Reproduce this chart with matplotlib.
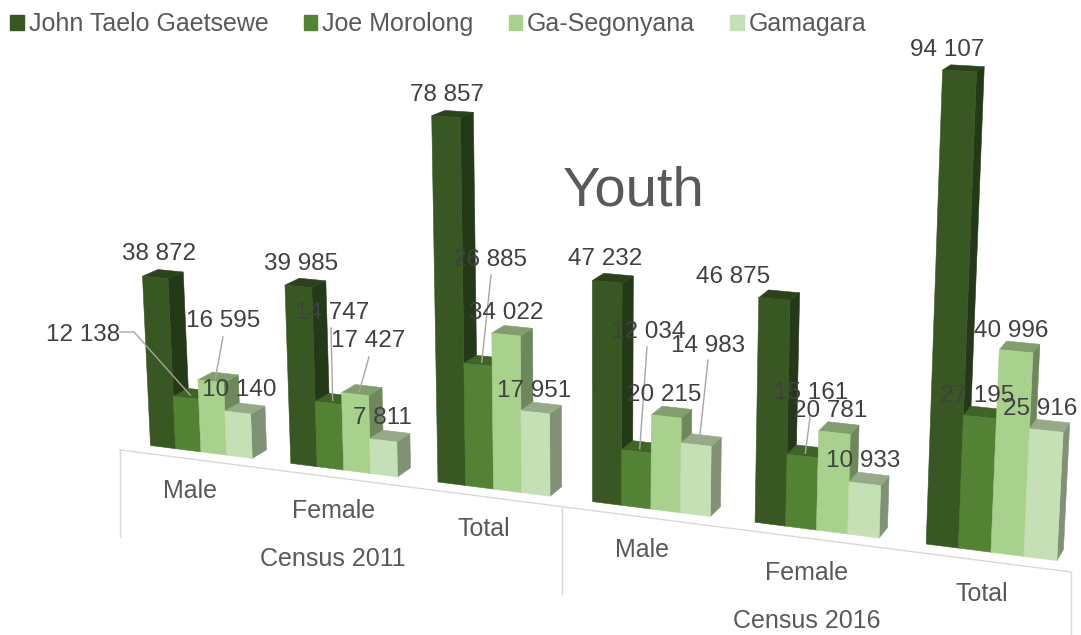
import numpy as np
import matplotlib
matplotlib.use("Agg")
import matplotlib.pyplot as plt
from matplotlib.patches import Patch

plt.rcParams['font.family'] = ['Liberation Sans', 'DejaVu Sans']

# data
names = ["John Taelo Gaetsewe", "Joe Morolong", "Ga-Segonyana", "Gamagara"]
john = [38872, 39985, 78857, 47232, 46875, 94107]
joe = [12138, 14747, 26885, 12034, 15161, 27195]
ga = [16595, 17427, 34022, 20215, 20781, 40996]
gamagara = [10140, 7811, 17951, 14983, 10933, 25916]
sexes = ["Male", "Female", "Total", "Male", "Female", "Total"]
censuses = ["Census 2011", "Census 2016"]

series = [john, joe, ga, gamagara]
colors = ["#385723", "#548235", "#A9D18E", "#C5E0B4"]

# camera: (1, u, value/1e5, depth) -> homogeneous pixel position
P = np.array([[150.5, 765.1, -27.0, 16.8],
              [445.5, 40.1, -448.0, -3.7],
              [1.0, -0.1338, -0.045, 0.0105]])
CAT = 0.1745      # one category along u
CLUSTER = 0.73    # share of a category the four bars fill


def project(t, v, w):
    # t is in categories, centre of first category = 0
    u = CAT * (t + CLUSTER / 2)
    x, y, h = P @ np.array([1.0, u, v / 1e5, w])
    return x / h, y / h


def shade(c, f):
    return tuple(np.array(matplotlib.colors.to_rgb(c)) * f)


def draw_bar(ax, t0, t1, v, col):
    # side, top, then front, corners from the projection
    side = [project(t1, 0, 0), project(t1, v, 0), project(t1, v, 1), project(t1, 0, 1)]
    top = [project(t0, v, 0), project(t1, v, 0), project(t1, v, 1), project(t0, v, 1)]
    front = [project(t0, 0, 0), project(t1, 0, 0), project(t1, v, 0), project(t0, v, 0)]
    for pts, c in ((side, shade(col, 0.65)), (top, shade(col, 0.76)), (front, col)):
        ax.fill(*zip(*pts), color=c, lw=0.4, zorder=2)


fig = plt.figure(figsize=(10.81, 6.35), dpi=100)
ax = fig.add_axes([0, 0, 1, 1])
ax.set_xlim(0, 1081)
ax.set_ylim(635, 0)
ax.axis('off')

bw = CLUSTER / 4
for i in range(len(sexes)):
    for s in range(4):
        t0 = i - CLUSTER / 2 + s * bw
        draw_bar(ax, t0, t0 + bw, series[s][i], colors[s])

# category axis
grid = "#D9D9D9"
a = project(-0.5, 0, -0.8)
b = project(5.47, 0, -0.8)
m = project(2.5, 0, -0.8)
ax.plot([a[0], b[0]], [a[1], b[1]], color=grid, lw=1, zorder=1)
for p in (a, m, b):
    ax.plot([p[0], p[0]], [p[1], p[1] + 87], color=grid, lw=1, zorder=1)

# category labels
sex_xy = [(190, 491), (334, 511), (484, 529), (642, 550), (807, 573), (982, 594)]
census_xy = [(333, 559), (807, 621)]
for txt, (x, y) in zip(sexes, sex_xy):
    ax.text(x, y, txt, fontsize=18, color="#595959", ha='center', va='center')
for txt, (x, y) in zip(censuses, census_xy):
    ax.text(x, y, txt, fontsize=18, color="#595959", ha='center', va='center')

# data labels, placed by hand like in the original
label_xy = [
    [(159, 254), (301, 264), (447, 95), (605, 259), (733, 277), (947, 50)],
    [(83, 335), (332, 313), (490, 260), (648, 332), (811, 393), (977, 396)],
    [(223, 321), (368, 341), (506, 313), (664, 395), (830, 411), (1011, 331)],
    [(239, 390), (382, 418), (534, 391), (708, 346), (863, 461), (1040, 409)],
]
for s in range(4):
    for i in range(6):
        txt = f"{series[s][i]:,}".replace(",", " ")
        x, y = label_xy[s][i]
        ax.text(x, y, txt, fontsize=17.5, color="#404040", ha='center', va='center', zorder=5)

# leader lines: (series, category, start of the line)
leaders = [
    (1, 0, [(120, 332), (134, 332)]),
    (2, 0, [(223, 337)]),
    (1, 1, [(331, 328)]),
    (2, 1, [(369, 357)]),
    (1, 2, [(491, 275)]),
    (1, 3, [(647, 347)]),
    (3, 3, [(708, 360)]),
    (1, 4, [(810, 417)]),
]
for s, i, start in leaders:
    end = project(i - CLUSTER / 2 + (s + 0.5) * bw, series[s][i], 0.3)
    pts = start + [end]
    ax.plot(*zip(*pts), color="#A6A6A6", lw=1, zorder=4)

ax.text(634, 192, "Youth", fontsize=40.5, color="#595959", ha='center', va='center')

handles = [Patch(color=c, label=n) for c, n in zip(colors, names)]
ax.legend(handles=handles, ncol=4, loc='upper left', bbox_to_anchor=(10, 12),
          bbox_transform=ax.transData, frameon=False, fontsize=18, labelcolor="#595959",
          borderpad=0, borderaxespad=0, handlelength=0.55, handleheight=0.55,
          handletextpad=0.2, columnspacing=1.4)

fig.savefig("out.png", dpi=100)
